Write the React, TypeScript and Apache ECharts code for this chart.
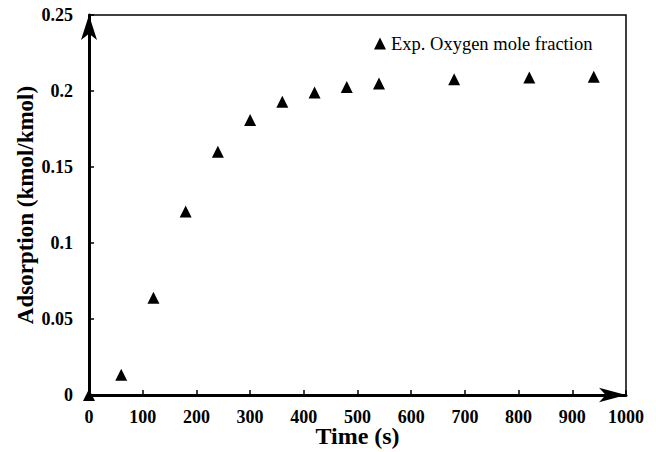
import React, { useEffect, useRef } from "react";
import * as echarts from "echarts";

const times = [0, 60, 120, 180, 240, 300, 360, 420, 480, 540, 680, 820, 940];
const oxygen = [0, 0.0133, 0.064, 0.1207, 0.16, 0.181, 0.193, 0.199, 0.2026, 0.205, 0.2077, 0.2089, 0.2093];
const seriesName = "Exp. Oxygen mole fraction";
const xTitle = "Time (s)";
const yTitle = "Adsorption (kmol/kmol)";

const FONT = "Liberation Serif";

export default function App() {
  const ref = useRef<HTMLDivElement>(null);
  useEffect(() => {
    if (!ref.current) return;
    const chart = echarts.init(ref.current, undefined, { renderer: "svg" });
    chart.setOption({
      animation: false,
      backgroundColor: "#fff",
      textStyle: { fontFamily: FONT },
      grid: {
        left: 89,
        right: 30,
        top: 15,
        bottom: 57,
        containLabel: false,
        outerBoundsMode: "none",
        show: true,
        borderColor: "#000",
        borderWidth: 1.5,
      },
      legend: {
        left: 369,
        top: 29,
        itemWidth: 12,
        itemHeight: 12,
        icon: "triangle",
        itemStyle: { color: "#000", opacity: 1 },
        textStyle: { fontFamily: FONT, fontSize: 18.5, color: "#000" },
        data: [seriesName],
      },
      xAxis: {
        type: "value",
        min: 0,
        max: 1000,
        interval: 100,
        name: xTitle,
        nameLocation: "middle",
        nameGap: 31,
        nameMoveOverlap: false,
        nameTextStyle: { fontFamily: FONT, fontSize: 24, lineHeight: 20, fontWeight: "bold", color: "#000" },
        axisLine: {
          show: true,
          lineStyle: { color: "#000", width: 3 },
          symbol: ["none", "arrow"],
          symbolSize: [11, 27],
          symbolOffset: [0, 0],
        },
        axisTick: { show: true, inside: true, length: 5, lineStyle: { color: "#000", width: 1.5 } },
        axisLabel: {
          fontFamily: FONT,
          fontSize: 18,
          lineHeight: 14,
          fontWeight: "bold",
          color: "#000",
          margin: 15,
          formatter: (v: number) => String(v),
        },
        splitLine: { show: false },
      },
      yAxis: {
        type: "value",
        min: 0,
        max: 0.25,
        interval: 0.05,
        name: yTitle,
        nameLocation: "middle",
        nameGap: 52,
        nameMoveOverlap: false,
        nameTextStyle: { fontFamily: FONT, fontSize: 23, fontWeight: "bold", color: "#000" },
        axisLine: {
          show: true,
          lineStyle: { color: "#000", width: 3 },
          symbol: ["none", "arrow"],
          symbolSize: [12, 25],
          symbolOffset: [0, 0],
        },
        axisTick: { show: true, inside: true, length: 5, lineStyle: { color: "#000", width: 1.5 } },
        axisLabel: {
          fontFamily: FONT,
          fontSize: 18,
          fontWeight: "bold",
          color: "#000",
          margin: 16,
          formatter: (v: number) => String(Math.round(v * 100) / 100),
        },
        splitLine: { show: false },
      },
      series: [
        {
          name: seriesName,
          type: "scatter",
          symbol: "triangle",
          symbolSize: 12,
          clip: false,
          itemStyle: { color: "#000", opacity: 1 },
          data: times.map((t, i) => [t, oxygen[i]]),
          z: 5,
        },
      ],
    });
    return () => chart.dispose();
  }, []);
  return (
    <div
      ref={ref}
      style={{ position: "fixed", left: 0, top: 0, width: 656, height: 452 }}
    />
  );
}
